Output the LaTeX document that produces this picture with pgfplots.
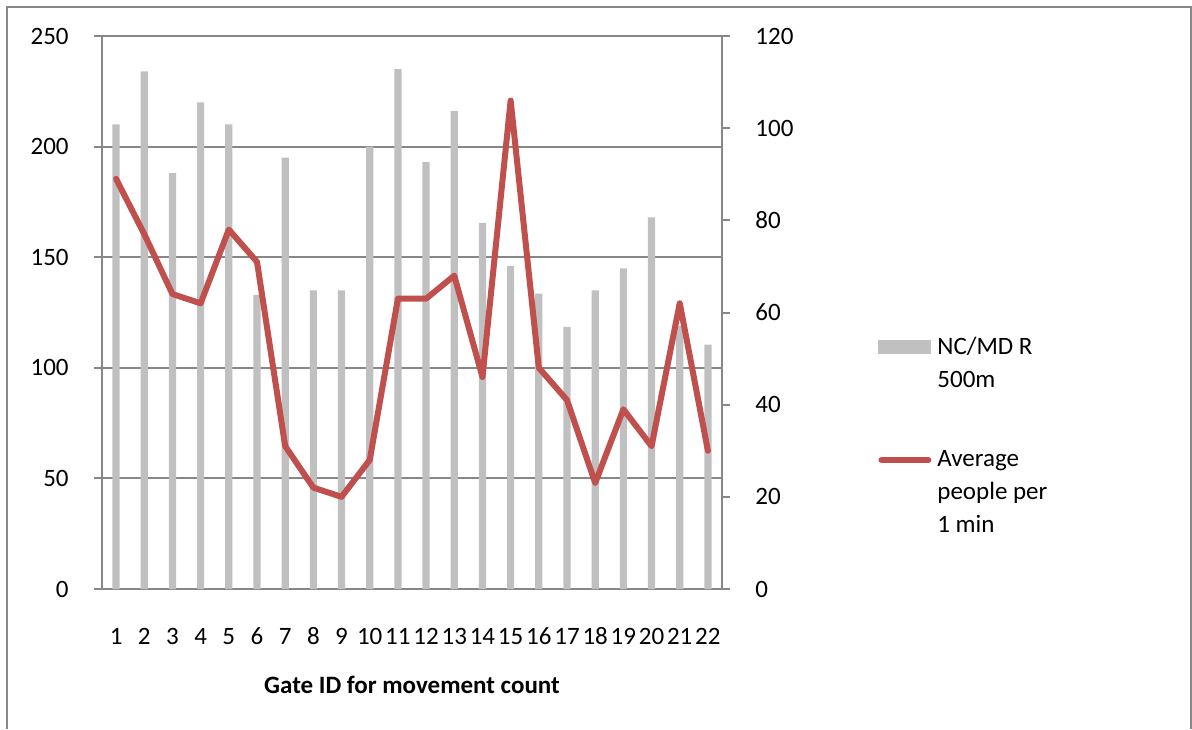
\documentclass[border=0pt]{standalone}
\usepackage{fontspec}
\setmainfont{Carlito}
\usepackage{pgfplots}
\pgfplotsset{compat=1.18}
\definecolor{barc}{HTML}{C0C0C0}
\definecolor{linec}{HTML}{C0504D}
\definecolor{gridc}{HTML}{878787}
\begin{document}
\begin{tikzpicture}
\path[use as bounding box] (0,0) rectangle (596pt,-364.5pt);
\draw[gridc, line width=1pt] (3.5pt,-364.5pt) -- (3.5pt,-3.5pt) -- (595.25pt,-3.5pt) -- (595.25pt,-364.5pt);
\begin{axis}[
  at={(51pt,-294.5pt)}, anchor=south west,
  scale only axis, width=310pt, height=276.5pt,
  xmin=0.5, xmax=22.5, ymin=0, ymax=250,
  xtick={1,...,22}, ytick={0,50,...,250},
  ybar, bar width=3.6pt,
  ymajorgrids, grid style={gridc, line width=1pt},
  axis line style={gridc, line width=1pt},
  ytick pos=left, tick align=outside, major tick length=4pt,
  ytick style={gridc, line width=1pt}, xtick style={draw=none},
  font=\fontsize{12.5}{16.5}\selectfont,
  /pgf/number format/assume math mode=true,
  xticklabel style={anchor=base, yshift=-23.5pt, inner sep=0pt},
  yticklabel style={anchor=east, inner sep=0pt, xshift=-12.5pt},
  xlabel={\bfseries Gate ID for movement count},
  xlabel style={at={(axis description cs:0.5,0)}, anchor=base, yshift=-52pt, inner sep=0pt},
]
\addplot[fill=barc, draw=none] coordinates {
(1,210) (2,234) (3,188) (4,220) (5,210) (6,133) (7,195) (8,135) (9,135) (10,200) (11,235)
(12,193) (13,216) (14,165.5) (15,146) (16,133.5) (17,118.5) (18,135) (19,145) (20,168) (21,119) (22,110.5)};
\end{axis}
\begin{axis}[
  at={(51pt,-294.5pt)}, anchor=south west,
  scale only axis, width=310pt, height=276.5pt,
  xmin=0.5, xmax=22.5, ymin=0, ymax=120,
  ytick={0,20,...,120},
  axis y line*=right, axis x line=none,
  axis line style={gridc, line width=1pt},
  tick align=outside, major tick length=4pt,
  ytick style={gridc, line width=1pt},
  font=\fontsize{12.5}{16.5}\selectfont,
  /pgf/number format/assume math mode=true,
  yticklabel style={anchor=west, inner sep=0pt, xshift=12.5pt},
  legend cell align=left,
  legend style={at={(axis description cs:1.2516,0.4557)}, anchor=north west, draw=none, fill=none,
    inner sep=0pt, outer sep=0pt, row sep=46.5pt, column sep=3pt,
    nodes={inner sep=0pt, anchor=west}, font=\fontsize{12.5}{16.5}\selectfont},
]
\addlegendimage{legend image code/.code={\fill[barc] (0pt,-3.25pt) rectangle (26pt,3.25pt);}}
\addlegendentry{\raisebox{0pt}[\height][0pt]{\parbox[t]{60pt}{NC/MD R\\500m}}}
\addplot[linec, line width=3pt, line join=round, line cap=round,
  legend image code/.code={\draw[linec, line width=3pt, line cap=round] (1.5pt,0pt) -- (25pt,0pt);}] coordinates {
(1,89) (2,77) (3,64) (4,62) (5,78) (6,71) (7,31) (8,22) (9,20) (10,28) (11,63)
(12,63) (13,68) (14,46) (15,106) (16,48) (17,41) (18,23) (19,39) (20,31) (21,62) (22,30)};
\addlegendentry{\raisebox{0pt}[\height][0pt]{\parbox[t]{60pt}{Average\\people per\\1 min}}}
\end{axis}
\end{tikzpicture}
\end{document}
